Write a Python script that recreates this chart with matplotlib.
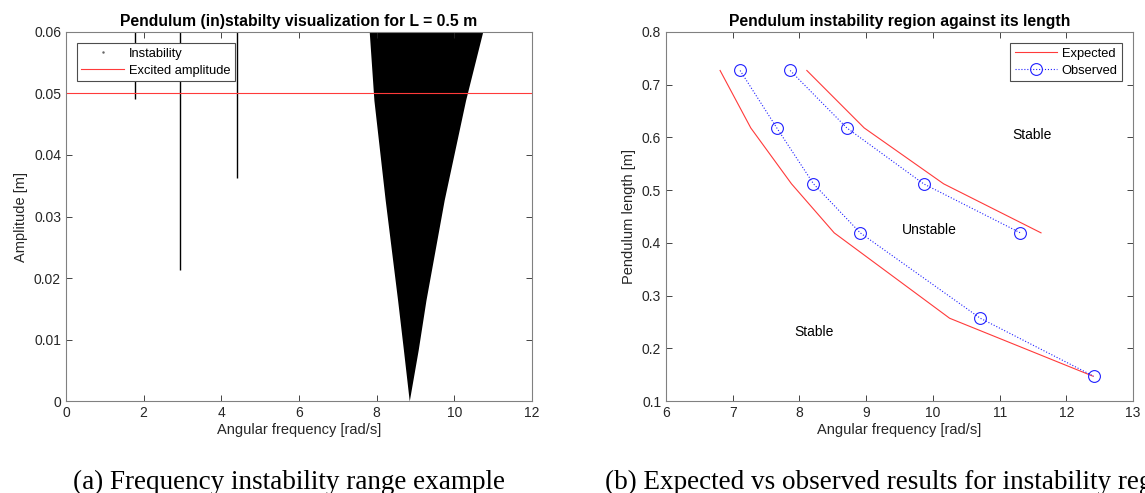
import numpy as np
import matplotlib
matplotlib.use('Agg')
import matplotlib.pyplot as plt
from matplotlib.lines import Line2D

plt.rcParams['font.family'] = ['Liberation Sans', 'DejaVu Sans']

# left panel: thin instability streaks (freq, lowest amplitude reached)
streak_freq = [1.78, 2.94, 4.40]
streak_amp_min = [0.0491, 0.0213, 0.0362]

# main instability tongue: amplitude levels and left/right frequency bounds
tongue_amp = [0.0, 0.0083, 0.0164, 0.0327, 0.0489, 0.060]
tongue_lo = [8.84, 8.69, 8.54, 8.22, 7.93, 7.81]
tongue_hi = [8.84, 9.07, 9.27, 9.74, 10.29, 10.73]
excited_amp = 0.05

# right panel: pendulum length vs boundary frequencies
lengths = [0.727, 0.618, 0.512, 0.419, 0.257, 0.147]
exp_low = [6.81, 7.27, 7.88, 8.52, 10.25, 12.40]
obs_low = [7.11, 7.66, 8.21, 8.91, 10.71, 12.41]
lengths_up = [0.727, 0.618, 0.512, 0.419]
exp_up = [8.11, 8.97, 10.16, 11.62]
obs_up = [7.86, 8.71, 9.86, 11.31]

axcol = '0.15'
red = '#ff3a3a'

fig = plt.figure(figsize=(11.45, 4.93), dpi=100)
ax1 = fig.add_axes([0.0576, 0.1866, 0.407, 0.7485])
ax2 = fig.add_axes([0.5817, 0.1866, 0.4079, 0.7485])

for ax in (ax1, ax2):
    ax.tick_params(direction='in', top=True, right=True, labelsize=10,
                   colors=axcol, length=4, width=0.6)
    for s in ax.spines.values():
        s.set_color('0.5')
        s.set_linewidth(0.8)

legkw = dict(fontsize=9.3, fancybox=False, edgecolor='0.3', framealpha=1,
             borderpad=0.35, labelspacing=0.4, handlelength=3.3,
             handletextpad=0.35, borderaxespad=0)

# left plot
for f, a in zip(streak_freq, streak_amp_min):
    ax1.vlines(f, a, 0.06, color='k', lw=1.0)
ax1.fill_betweenx(tongue_amp, tongue_lo, tongue_hi, color='k', lw=0)
ax1.axhline(excited_amp, color=red, lw=0.8)
ax1.set_xlim(0, 12)
ax1.set_ylim(0, 0.06)
ax1.set_xticks(np.arange(0, 13, 2))
ax1.set_yticks(np.arange(0, 0.061, 0.01))
ax1.set_yticklabels(['0', '0.01', '0.02', '0.03', '0.04', '0.05', '0.06'])
ax1.set_xlabel('Angular frequency [rad/s]', fontsize=10.5, color=axcol, labelpad=2)
ax1.set_ylabel('Amplitude [m]', fontsize=10.5, color=axcol, labelpad=4)
ax1.set_title('Pendulum (in)stabilty visualization for L = 0.5 m',
              fontsize=11.3, fontweight='bold', pad=4)
h1 = [Line2D([], [], ls='none', marker='.', markersize=1.5, color='0.4'),
      Line2D([], [], color=red, lw=0.8)]
leg = ax1.legend(h1, ['Instability', 'Excited amplitude'], loc='upper left',
                 bbox_to_anchor=(11 / 466, 1 - 11 / 369), **legkw)
leg.get_frame().set_linewidth(0.8)

# right plot
ax2.plot(exp_low, lengths, color=red, lw=0.8, label='Expected')
ax2.plot(obs_low, lengths, color='#2020ff', ls=':', lw=0.8, marker='o',
         markersize=8.5, mfc='none', mew=0.8, label='Observed')
ax2.plot(exp_up, lengths_up, color=red, lw=0.8)
ax2.plot(obs_up, lengths_up, color='#2020ff', ls=':', lw=0.8, marker='o',
         markersize=8.5, mfc='none', mew=0.8)
ax2.text(11.48, 0.605, 'Stable', fontsize=10, ha='center', va='center')
ax2.text(9.95, 0.424, 'Unstable', fontsize=10, ha='center', va='center')
ax2.text(8.22, 0.231, 'Stable', fontsize=10, ha='center', va='center')
ax2.set_xlim(6, 13)
ax2.set_ylim(0.1, 0.8)
ax2.set_xticks(np.arange(6, 14, 1))
ax2.set_yticks(np.arange(0.1, 0.81, 0.1))
ax2.set_yticklabels(['0.1', '0.2', '0.3', '0.4', '0.5', '0.6', '0.7', '0.8'])
ax2.set_xlabel('Angular frequency [rad/s]', fontsize=10.5, color=axcol, labelpad=2)
ax2.set_ylabel('Pendulum length [m]', fontsize=10.5, color=axcol, labelpad=4)
ax2.set_title('Pendulum instability region against its length',
              fontsize=11.3, fontweight='bold', pad=4)
leg2 = ax2.legend(loc='upper right',
                  bbox_to_anchor=(1 - 11 / 467, 1 - 11 / 369), **legkw)
leg2.get_frame().set_linewidth(0.8)

# captions
fig.text(73 / 1145, 1 - 489 / 493, '(a) Frequency instability range example',
         family='Liberation Serif', fontsize=19.5, ha='left', va='baseline')
fig.text(605 / 1145, 1 - 489 / 493,
         '(b) Expected vs observed results for instability region',
         family='Liberation Serif', fontsize=19.5, ha='left', va='baseline')

fig.savefig('out.png', dpi=100)
